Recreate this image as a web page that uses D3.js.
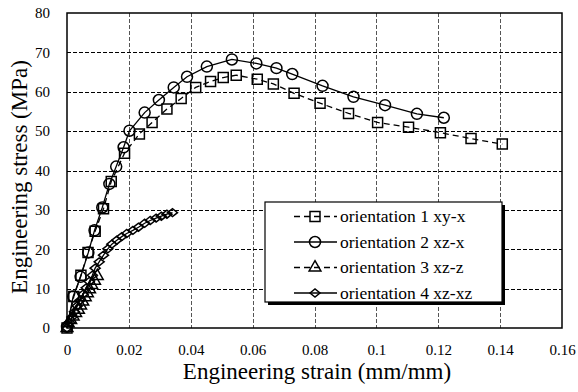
<!DOCTYPE html>
<html>
<head>
<meta charset="utf-8">
<script src="https://cdn.jsdelivr.net/npm/d3@7/dist/d3.min.js"></script>
<style>
  body { margin: 0; background: #fff; }
</style>
</head>
<body>
<script>
'use strict';

// strain (mm/mm) and stress (MPa)
const s1Strain = [0, 0.0022, 0.0045, 0.0068, 0.0091, 0.0118, 0.0143, 0.0186, 0.0234, 0.0275, 0.0323, 0.0369,
  0.0416, 0.0464, 0.0505, 0.0547, 0.0615, 0.0667, 0.0734, 0.0818, 0.091, 0.1004, 0.1104, 0.1207, 0.1306, 0.1407];
const s1Stress = [0, 8.0, 13.4, 19.2, 24.6, 30.3, 37.2, 44.4, 49.3, 52.2, 55.6, 58.3,
  61.1, 62.6, 63.6, 64.2, 63.2, 62.0, 59.6, 57.1, 54.5, 52.2, 51.0, 49.6, 48.1, 46.7];

const s2Strain = [0, 0.002, 0.0044, 0.0069, 0.0089, 0.0114, 0.0137, 0.0159, 0.0183, 0.0202, 0.0251, 0.0297,
  0.0345, 0.0388, 0.0452, 0.0533, 0.0612, 0.0677, 0.0728, 0.0826, 0.0926, 0.1028, 0.1131, 0.1218];
const s2Stress = [0.3, 8.0, 13.0, 19.2, 24.8, 30.6, 36.6, 41.0, 45.9, 50.1, 54.7, 57.9,
  61.1, 63.8, 66.4, 68.2, 67.2, 66.0, 64.5, 61.5, 58.7, 56.6, 54.4, 53.4];

const s3Strain = [0, 0.0004, 0.0012, 0.002, 0.0028, 0.0037, 0.0044, 0.0051, 0.0059, 0.0066, 0.0073, 0.008, 0.0089, 0.0098];
const s3Stress = [0, 1.2, 2.0, 2.9, 3.8, 4.6, 5.7, 6.7, 7.8, 8.8, 9.8, 10.9, 12.0, 13.2];

const s4Strain = [0, 0.0008, 0.0016, 0.0024, 0.0033, 0.0042, 0.0052, 0.0062, 0.0072, 0.0082, 0.0091, 0.0104,
  0.0118, 0.0132, 0.0145, 0.0161, 0.0177, 0.0193, 0.0213, 0.0231, 0.0251, 0.0269, 0.0288, 0.0305, 0.0323, 0.0341];
const s4Stress = [0, 1.4, 2.8, 4.1, 5.6, 7.0, 8.6, 10.2, 11.8, 13.4, 15.2, 16.8,
  18.5, 20.1, 21.3, 22.3, 23.2, 24.0, 24.8, 25.6, 26.6, 27.3, 27.9, 28.4, 28.9, 29.3];

const seriesNames = ['orientation 1 xy-x', 'orientation 2 xz-x', 'orientation 3 xz-z', 'orientation 4 xz-xz'];
const xTicks = [0, 0.02, 0.04, 0.06, 0.08, 0.1, 0.12, 0.14, 0.16];
const yTicks = [0, 10, 20, 30, 40, 50, 60, 70, 80];

const W = 578, H = 392;
const plot = {left: 67, right: 562, top: 13, bottom: 328};
const serif = 'Liberation Serif';

const svg = d3.select('body').append('svg')
  .attr('width', W)
  .attr('height', H);

const x = d3.scaleLinear().domain([0, 0.16]).range([plot.left, plot.right]);
const y = d3.scaleLinear().domain([0, 80]).range([plot.bottom, plot.top]);

// grid lines
svg.append('g').selectAll('line')
  .data(xTicks.slice(1, -1))
  .enter().append('line')
    .attr('x1', (d) => Math.round(x(d)) + 0.5)
    .attr('x2', (d) => Math.round(x(d)) + 0.5)
    .attr('y1', plot.top)
    .attr('y2', plot.bottom)
    .attr('stroke', '#555')
    .attr('stroke-dasharray', '4,2');

svg.append('g').selectAll('line')
  .data(yTicks.slice(1, -1))
  .enter().append('line')
    .attr('x1', plot.left)
    .attr('x2', plot.right)
    .attr('y1', (d) => Math.round(y(d)) + 0.5)
    .attr('y2', (d) => Math.round(y(d)) + 0.5)
    .attr('stroke', '#000')
    .attr('stroke-dasharray', '4,2');

// axes, without tick marks
const xAxis = d3.axisBottom(x).tickValues(xTicks).tickSize(0).tickPadding(16)
  .tickFormat((d) => d3.format('~g')(d));
svg.append('g')
  .attr('transform', 'translate(0,' + plot.bottom + ')')
  .call(xAxis)
  .attr('font-family', serif)
  .attr('font-size', 15)
  .call((g) => g.select('.domain').remove())
  .selectAll('text')
    .attr('fill', '#000');

const yAxis = d3.axisLeft(y).tickValues(yTicks).tickSize(0).tickPadding(17);
svg.append('g')
  .attr('transform', 'translate(' + plot.left + ',0)')
  .call(yAxis)
  .attr('font-family', serif)
  .attr('font-size', 15)
  .call((g) => g.select('.domain').remove())
  .selectAll('text')
    .attr('fill', '#000');

// plot frame
svg.append('rect')
  .attr('x', plot.left)
  .attr('y', plot.top)
  .attr('width', plot.right - plot.left)
  .attr('height', plot.bottom - plot.top)
  .attr('fill', 'none')
  .attr('stroke', '#000')
  .attr('stroke-width', 1.5);

// marker shapes (diamond is a bit wider than tall, as in the picture)
const diamond = 'M-5,0L0,-4L5,0L0,4Z';
const sym = [
  d3.symbol().type(d3.symbolSquare).size(100)(),
  d3.symbol().type(d3.symbolCircle).size(95)(),
  d3.symbol().type(d3.symbolTriangle).size(60)(),
  diamond
];
const dashes = ['6,4', null, '6,4', null];

const series = [
  d3.zip(s1Strain, s1Stress),
  d3.zip(s2Strain, s2Stress),
  d3.zip(s3Strain, s3Stress),
  d3.zip(s4Strain, s4Stress)
];

const line = d3.line()
  .x((d) => x(d[0]))
  .y((d) => y(d[1]));

series.forEach((pts, i) => {
  const g = svg.append('g');
  g.selectAll('path.m')
    .data(pts)
    .enter().append('path')
      .attr('class', 'm')
      .attr('d', sym[i])
      .attr('transform', (d) => 'translate(' + x(d[0]) + ',' + y(d[1]) + ')')
      .attr('fill', 'none')
      .attr('stroke', '#000')
      .attr('stroke-width', 1.5);
  g.append('path')
    .datum(pts)
    .attr('d', line)
    .attr('fill', 'none')
    .attr('stroke', '#000')
    .attr('stroke-width', 1.3)
    .attr('stroke-dasharray', dashes[i]);
});

// legend with shadow
const lg = {x: 265, y: 202, w: 237, h: 100};
svg.append('rect')
  .attr('x', lg.x + 3).attr('y', lg.y + 3)
  .attr('width', lg.w).attr('height', lg.h)
  .attr('fill', '#000');
svg.append('rect')
  .attr('x', lg.x).attr('y', lg.y)
  .attr('width', lg.w).attr('height', lg.h)
  .attr('fill', '#fff')
  .attr('stroke', '#000')
  .attr('stroke-width', 1.2);

seriesNames.forEach((name, i) => {
  const cy = 216.5 + i * 25.5;
  svg.append('line')
    .attr('x1', 294).attr('x2', 337)
    .attr('y1', cy).attr('y2', cy)
    .attr('stroke', '#000')
    .attr('stroke-width', 1.3)
    .attr('stroke-dasharray', dashes[i]);
  svg.append('path')
    .attr('d', sym[i])
    .attr('transform', 'translate(315,' + cy + ')')
    .attr('fill', 'none')
    .attr('stroke', '#000')
    .attr('stroke-width', 1.5);
  svg.append('text')
    .attr('x', 340)
    .attr('y', cy + 5.5)
    .attr('font-family', serif)
    .attr('font-size', 17.5)
    .text(name);
});

// axis titles
svg.append('text')
  .attr('x', 317)
  .attr('y', 379)
  .attr('text-anchor', 'middle')
  .attr('font-family', serif)
  .attr('font-size', 23)
  .text('Engineering strain (mm/mm)');

svg.append('text')
  .attr('transform', 'translate(27,177)rotate(-90)')
  .attr('text-anchor', 'middle')
  .attr('font-family', serif)
  .attr('font-size', 23)
  .text('Engineering stress (MPa)');
</script>
</body>
</html>
